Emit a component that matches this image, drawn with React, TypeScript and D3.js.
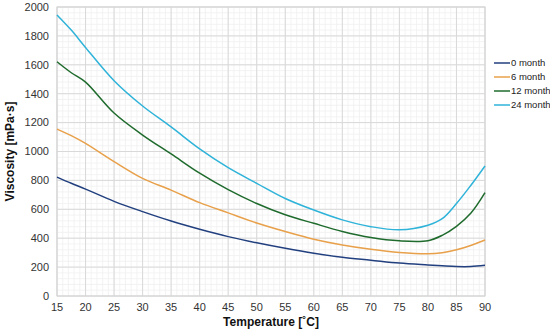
import React from "react";
import * as d3 from "d3";

const temps = [15, 17.5, 20, 25, 30, 35, 40, 45, 50, 55, 60, 65, 70, 75, 80, 82.5, 85, 87.5, 90];
const month0 = [823, 780, 740, 655, 584, 519, 462, 411, 368, 330, 296, 268, 248, 228, 215, 209, 204, 204, 212];
const month6 = [1155, 1110, 1056, 930, 814, 733, 646, 575, 505, 446, 393, 353, 323, 301, 292, 300, 320, 350, 388];
const month12 = [1621, 1545, 1480, 1266, 1114, 983, 850, 736, 640, 562, 503, 447, 405, 382, 383, 420, 482, 572, 715];
const month24 = [1945, 1840, 1720, 1490, 1315, 1170, 1018, 888, 780, 675, 595, 527, 480, 458, 490, 535, 640, 765, 900];

const seriesNames = ["0 month", "6 month", "12 month", "24 month"];
const seriesValues = [month0, month6, month12, month24];
const colors = ["#22407f", "#e8a04a", "#1f6b2d", "#2fb3d9"];

const xTicks = d3.range(15, 91, 5);
const yTicks = d3.range(0, 2001, 200);

export default function App() {
  const width = 550;
  const height = 330;
  const m = { left: 57, right: 65, top: 7, bottom: 34 };

  const x = d3.scaleLinear().domain([15, 90]).range([m.left, width - m.right]);
  const y = d3.scaleLinear().domain([0, 2000]).range([height - m.bottom, m.top]);

  const line = d3
    .line<number>()
    .x((_, i) => x(temps[i]))
    .y((d) => y(d))
    .curve(d3.curveCatmullRom.alpha(0.5));

  const minorX = d3.range(15, 91, 1);
  const minorY = d3.range(0, 2001, 40);
  const font = "Liberation Sans, Arial, sans-serif";

  return (
    <svg
      width={width}
      height={height}
      style={{ position: "absolute", left: 0, top: 0, background: "#fff" }}
      fontFamily={font}
    >
      {/* minor grid */}
      {minorX.map((t) => (
        <line key={"mx" + t} x1={x(t)} x2={x(t)} y1={y(0)} y2={y(2000)} stroke="#f0f0f0" strokeWidth={0.8} />
      ))}
      {minorY.map((t) => (
        <line key={"my" + t} x1={x(15)} x2={x(90)} y1={y(t)} y2={y(t)} stroke="#f0f0f0" strokeWidth={0.8} />
      ))}
      {/* major grid */}
      {xTicks.map((t) => (
        <line key={"gx" + t} x1={x(t)} x2={x(t)} y1={y(0)} y2={y(2000)} stroke="#d9d9d9" strokeWidth={1} />
      ))}
      {yTicks.map((t) => (
        <line key={"gy" + t} x1={x(15)} x2={x(90)} y1={y(t)} y2={y(t)} stroke="#d9d9d9" strokeWidth={1} />
      ))}
      <rect x={x(15)} y={y(2000)} width={x(90) - x(15)} height={y(0) - y(2000)} fill="none" stroke="#d4d4d4" />

      {/* tick labels */}
      {yTicks.map((t) => (
        <text key={"yl" + t} x={x(15) - 8} y={y(t)} dy="0.35em" textAnchor="end" fontSize={11} fill="#333">
          {t}
        </text>
      ))}
      {xTicks.map((t) => (
        <text key={"xl" + t} x={x(t)} y={y(0) + 15} textAnchor="middle" fontSize={11} fill="#333">
          {t}
        </text>
      ))}

      {/* series */}
      {seriesValues.map((vals, i) => (
        <path key={seriesNames[i]} d={line(vals) ?? ""} fill="none" stroke={colors[i]} strokeWidth={1.5} />
      ))}

      {/* axis titles */}
      <text x={(x(15) + x(90)) / 2} y={326} textAnchor="middle" fontSize={12} fontWeight="bold" fill="#111">
        Temperature [˚C]
      </text>
      <text
        transform={`translate(14,${(y(0) + y(2000)) / 2}) rotate(-90)`}
        textAnchor="middle"
        fontSize={12}
        fontWeight="bold"
        fill="#111"
      >
        Viscosity [mPa·s]
      </text>

      {/* legend */}
      {seriesNames.map((name, i) => (
        <g key={"lg" + name} transform={`translate(494,${63 + i * 14})`}>
          <line x1={0} x2={16} y1={0} y2={0} stroke={colors[i]} strokeWidth={1.5} />
          <text x={17} y={0} dy="0.35em" fontSize={9.5} fill="#222">
            {name}
          </text>
        </g>
      ))}
    </svg>
  );
}
